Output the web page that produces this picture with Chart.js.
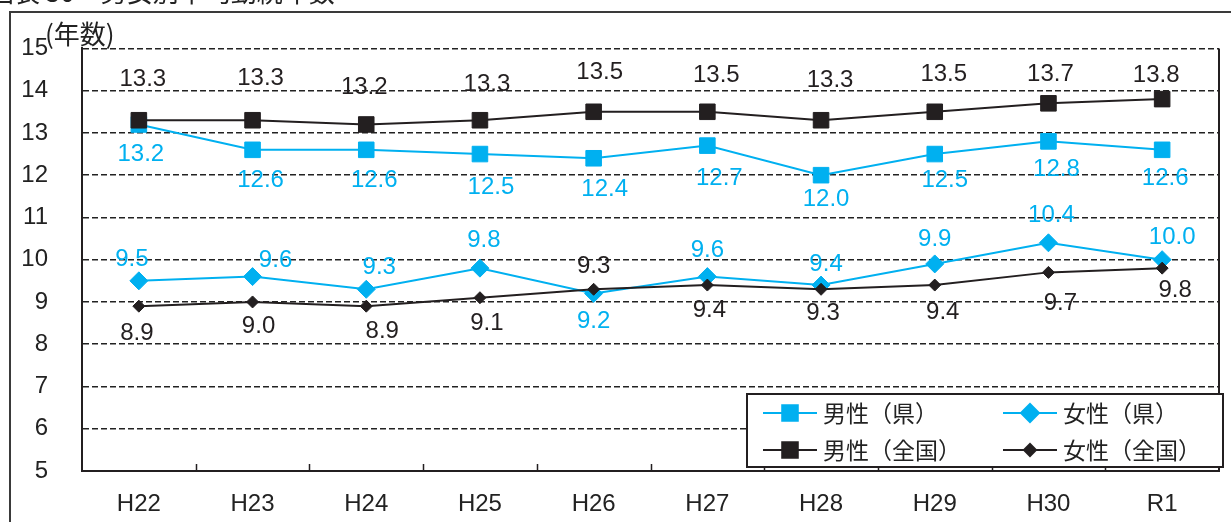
<!DOCTYPE html>
<html lang="ja">
<head>
<meta charset="utf-8">
<title>男女別平均勤続年数</title>
<script src="https://cdn.jsdelivr.net/npm/chart.js@4.4.1/dist/chart.umd.min.js"></script>
<style>
  html, body { margin: 0; padding: 0; background: #fff; }
  canvas { display: block; }
</style>
</head>
<body>
<canvas id="kinzokuChart" width="1231" height="522"></canvas>
<script>
// 年度
const nendo = ['H22', 'H23', 'H24', 'H25', 'H26', 'H27', 'H28', 'H29', 'H30', 'R1'];

// 平均勤続年数（年）
const danseiKen    = [13.2, 12.6, 12.6, 12.5, 12.4, 12.7, 12.0, 12.5, 12.8, 12.6];
const joseiKen     = [9.5, 9.6, 9.3, 9.8, 9.2, 9.6, 9.4, 9.9, 10.4, 10.0];
const danseiZenkoku = [13.3, 13.3, 13.2, 13.3, 13.5, 13.5, 13.3, 13.5, 13.7, 13.8];
const joseiZenkoku  = [8.9, 9.0, 8.9, 9.1, 9.3, 9.4, 9.3, 9.4, 9.7, 9.8];

const yTicks = [5, 6, 7, 8, 9, 10, 11, 12, 13, 14, 15];

// 数値ラベルのずらし量（点からの px）
const labelShift = {
  danseiZenkoku: { dx: [4, 8, -2, 7, 6, 9, 9, 9, 2, -6], dy: [-41, -42, -37, -36, -39, -36, -40, -37, -29, -24] },
  danseiKen:     { dx: [2, 8, 8, 11, 11, 12, 5, 10, 8, 3], dy: [30, 31, 31, 33, 31, 33, 24, 26, 28, 29] },
  joseiKen:      { dx: [-7, 23, 13, 4, 0, 0, 5, 0, 3, 10], dy: [-21, -16, -22, -28, 28, -26, -21, -25, -27, -22] },
  joseiZenkoku:  { dx: [-2, 6, 16, 7, 0, 2, 2, 8, 12, 13], dy: [27, 24, 25, 26, -23, 25, 24, 27, 31, 22] }
};

const CYAN = '#00B0F0';
const BLACK = '#231F20';
const NUM_FAMILY = '"Liberation Sans", Arial, sans-serif';
const JP_FAMILY = '"Noto Sans CJK JP", "Noto Sans", sans-serif';

function series(key, label, data, color, style, radius, order) {
  return {
    key: key,
    label: label,
    data: data,
    borderColor: color,
    backgroundColor: color,
    borderWidth: 2,
    pointStyle: style,
    pointRadius: radius,
    pointHoverRadius: radius,
    pointBorderWidth: 1,
    pointBackgroundColor: color,
    pointBorderColor: color,
    tension: 0,
    fill: false,
    order: order
  };
}

// order が小さいほど手前に描かれる
const datasets = [
  series('danseiKen', '男性（県）', danseiKen, CYAN, 'rect', 11, 4),
  series('joseiKen', '女性（県）', joseiKen, CYAN, 'rectRot', 9, 3),
  series('danseiZenkoku', '男性（全国）', danseiZenkoku, BLACK, 'rect', 11, 2),
  series('joseiZenkoku', '女性（全国）', joseiZenkoku, BLACK, 'rectRot', 6, 1)
];

// 数値ラベル
const valueLabels = {
  id: 'valueLabels',
  afterDatasetsDraw(chart) {
    const ctx = chart.ctx;
    ctx.save();
    ctx.font = '24px ' + NUM_FAMILY;
    ctx.textAlign = 'center';
    ctx.textBaseline = 'middle';
    chart.data.datasets.forEach((ds, i) => {
      const meta = chart.getDatasetMeta(i);
      const shift = labelShift[ds.key];
      ctx.fillStyle = ds.borderColor;
      meta.data.forEach((pt, j) => {
        ctx.fillText(ds.data[j].toFixed(1), pt.x + shift.dx[j], pt.y + shift.dy[j]);
      });
    });
    ctx.restore();
  }
};

// 枠・見出し・凡例・目盛り
const decorations = {
  id: 'decorations',
  afterDraw(chart) {
    const ctx = chart.ctx;
    const area = chart.chartArea;
    const xs = chart.scales.x;
    ctx.save();

    // 外枠
    ctx.strokeStyle = '#3a3a3a';
    ctx.lineWidth = 2;
    ctx.beginPath();
    ctx.moveTo(10, 522);
    ctx.lineTo(10, 12);
    ctx.lineTo(1231, 12);
    ctx.stroke();

    // 見出し
    ctx.fillStyle = '#222';
    ctx.font = '26px ' + JP_FAMILY;
    ctx.textAlign = 'left';
    ctx.textBaseline = 'alphabetic';
    ctx.fillText('図表 30　男女別平均勤続年数', -12, 2);

    // 単位
    ctx.font = '26px ' + JP_FAMILY;
    ctx.textBaseline = 'middle';
    ctx.fillText('(年数)', 45, 34);

    // プロット右端
    ctx.strokeStyle = BLACK;
    ctx.lineWidth = 2;
    ctx.beginPath();
    ctx.moveTo(area.right, area.top);
    ctx.lineTo(area.right, area.bottom);
    ctx.stroke();

    // 横軸の内向き目盛り
    ctx.lineWidth = 1.5;
    ctx.beginPath();
    for (let i = 0; i < nendo.length - 1; i++) {
      const bx = Math.round((xs.getPixelForValue(i) + xs.getPixelForValue(i + 1)) / 2) + 0.5;
      ctx.moveTo(bx, area.bottom);
      ctx.lineTo(bx, area.bottom - 7);
    }
    ctx.stroke();

    // 凡例
    const box = { x: 747, y: 394, w: 476, h: 73 };
    ctx.fillStyle = '#fff';
    ctx.fillRect(box.x, box.y, box.w, box.h);
    ctx.strokeStyle = BLACK;
    ctx.lineWidth = 2;
    ctx.strokeRect(box.x, box.y, box.w, box.h);

    const cols = [763, 1003];
    const rows = [413, 450];
    ctx.font = '23px ' + JP_FAMILY;
    ctx.textBaseline = 'middle';
    chart.data.datasets.forEach((ds, k) => {
      const lx = cols[k % 2];
      const ly = rows[Math.floor(k / 2)];
      ctx.strokeStyle = ds.borderColor;
      ctx.lineWidth = 2;
      ctx.beginPath();
      ctx.moveTo(lx, ly);
      ctx.lineTo(lx + 54, ly);
      ctx.stroke();
      ctx.fillStyle = ds.borderColor;
      Chart.helpers.drawPoint(ctx, {
        pointStyle: ds.pointStyle,
        radius: ds.pointRadius,
        borderWidth: 1,
        rotation: 0
      }, lx + 27, ly);
      ctx.fillStyle = '#222';
      ctx.fillText(ds.label, lx + 60, ly);
    });

    ctx.restore();
  }
};

new Chart(document.getElementById('kinzokuChart'), {
  type: 'line',
  data: {
    labels: nendo,
    datasets: datasets
  },
  options: {
    responsive: false,
    animation: false,
    events: [],
    layout: {
      padding: { top: 47, right: 2, left: 0, bottom: 0 }
    },
    plugins: {
      legend: { display: false },
      tooltip: { enabled: false },
      title: { display: false }
    },
    scales: {
      x: {
        type: 'category',
        offset: true,
        grid: { display: false, drawTicks: false },
        border: { display: true, color: BLACK, width: 2 },
        ticks: {
          color: '#222',
          font: { family: NUM_FAMILY, size: 24 },
          padding: 19,
          maxRotation: 0,
          autoSkip: false
        },
        afterFit(scale) { scale.height = 51; }
      },
      y: {
        min: 5,
        max: 15,
        afterBuildTicks(scale) {
          scale.ticks = yTicks.map(v => ({ value: v }));
        },
        grid: {
          color: '#222',
          lineWidth: 1.5,
          drawTicks: false
        },
        border: { display: true, color: BLACK, width: 2, dash: [6, 3] },
        ticks: {
          color: '#222',
          font: { family: NUM_FAMILY, size: 24 },
          padding: 34
        },
        afterFit(scale) { scale.width = 82; }
      }
    }
  },
  plugins: [valueLabels, decorations]
});
</script>
</body>
</html>
